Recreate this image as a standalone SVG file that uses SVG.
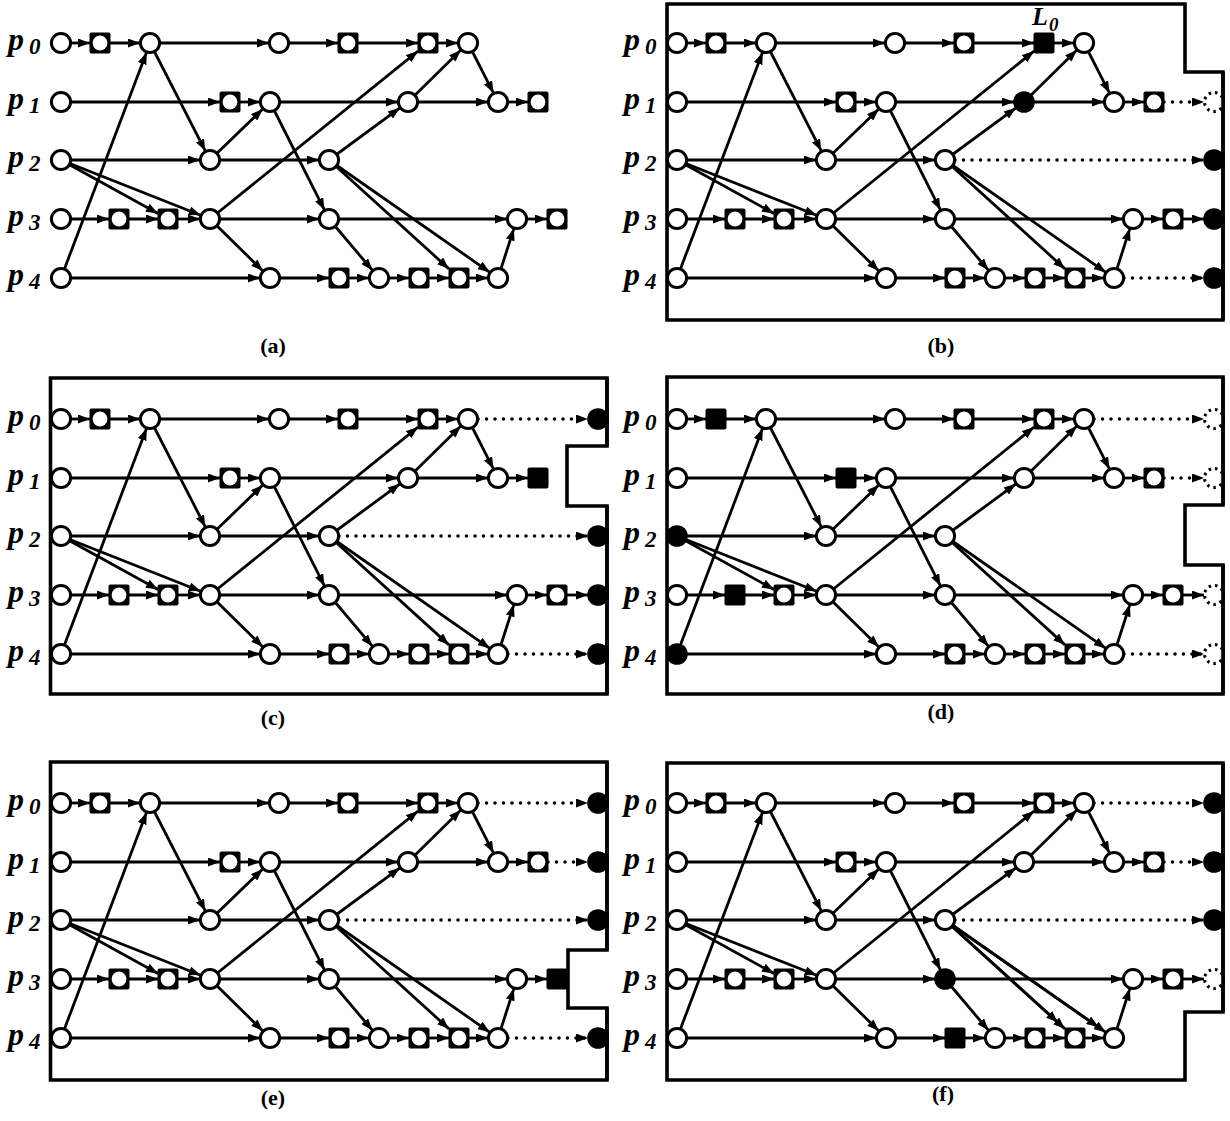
<svg xmlns="http://www.w3.org/2000/svg" xmlns:xlink="http://www.w3.org/1999/xlink" width="1230" height="1121" viewBox="0 0 1230 1121">
<style>
.e{fill:none;stroke:#000;stroke-width:2.8;marker-end:url(#ah)}
.dt{fill:none;stroke:#000;stroke-width:3.6;stroke-dasharray:0 8.5;stroke-linecap:round;marker-end:url(#ah)}
.box{fill:none;stroke:#000;stroke-width:3.6}
.pl{font-family:"Liberation Serif",serif;font-weight:bold;font-style:italic;font-size:32px}
.sb{font-size:23px}
.cap{font-family:"Liberation Serif",serif;font-weight:bold;font-size:22px;text-anchor:middle}
</style>
<defs>
<marker id="ah" viewBox="0 0 12 9" refX="12" refY="4.5" markerWidth="12" markerHeight="9" markerUnits="userSpaceOnUse" orient="auto"><path d="M0 0L12 4.5L0 9z" fill="#000"/></marker>
<g id="C"><circle r="9.6" fill="#fff" stroke="#000" stroke-width="3"/></g>
<g id="S"><rect x="-10.5" y="-10.5" width="21" height="21" rx="2" fill="#000"/><circle r="7.4" fill="#fff"/></g>
<g id="CF"><circle r="10.8" fill="#000"/></g>
<g id="SF"><rect x="-10.5" y="-10.5" width="21" height="21" rx="2" fill="#000"/></g>
<g id="CD"><circle r="9.5" fill="#fff" stroke="#000" stroke-width="3" stroke-dasharray="2.5 4"/></g>
<g id="plabels">
<text class="pl" x="8" y="50">p<tspan class="sb" dx="5" dy="4">0</tspan></text>
<text class="pl" x="8" y="109">p<tspan class="sb" dx="5" dy="4">1</tspan></text>
<text class="pl" x="8" y="167">p<tspan class="sb" dx="5" dy="4">2</tspan></text>
<text class="pl" x="8" y="226">p<tspan class="sb" dx="5" dy="4">3</tspan></text>
<text class="pl" x="8" y="285">p<tspan class="sb" dx="5" dy="4">4</tspan></text>
</g>
<g id="base-edges">
<path class="e" d="M61 43H90"/>
<path class="e" d="M100 43H140"/>
<path class="e" d="M150 43H269"/>
<path class="e" d="M279 43H338"/>
<path class="e" d="M348 43H418"/>
<path class="e" d="M428 43H458"/>
<path class="e" d="M61 102H220"/>
<path class="e" d="M230 102H260"/>
<path class="e" d="M270 102H398"/>
<path class="e" d="M408 102H488"/>
<path class="e" d="M498 102H528"/>
<path class="e" d="M61 160H200"/>
<path class="e" d="M210 160H319"/>
<path class="e" d="M61 219H109"/>
<path class="e" d="M119 219H158"/>
<path class="e" d="M168 219H200"/>
<path class="e" d="M210 219H319"/>
<path class="e" d="M329 219H507"/>
<path class="e" d="M517 219H547"/>
<path class="e" d="M61 278H260"/>
<path class="e" d="M270 278H329"/>
<path class="e" d="M339 278H369"/>
<path class="e" d="M379 278H409"/>
<path class="e" d="M419 278H449"/>
<path class="e" d="M459 278H488"/>
<path class="e" d="M61 278L146.5 52.4"/>
<path class="e" d="M150 43L205.4 151.1"/>
<path class="e" d="M210 160L262.8 109"/>
<path class="e" d="M61 160L158 213.5"/>
<path class="e" d="M61 160L200.7 215.3"/>
<path class="e" d="M210 219L262.9 271"/>
<path class="e" d="M210 219L418 51.1"/>
<path class="e" d="M270 102L324.5 210.1"/>
<path class="e" d="M329 160L399.9 107.9"/>
<path class="e" d="M408 102L460.9 50"/>
<path class="e" d="M468 43L493.5 93.1"/>
<path class="e" d="M329 219L372.5 270.4"/>
<path class="e" d="M329 160L449 268.9"/>
<path class="e" d="M329 160L489.8 272.3"/>
<path class="e" d="M498 278L513.9 228.5"/>
</g>
</defs>
<rect width="1230" height="1121" fill="#fff"/>

<!-- (a) -->
<g id="panel-a">
<g id="a-connectors"><use href="#base-edges"/></g>
<g id="a-nodes">
<use id="a-p0-0" href="#C" x="61" y="43"/><use id="a-p0-1" href="#S" x="100" y="43"/><use id="a-p0-2" href="#C" x="150" y="43"/><use id="a-p0-3" href="#C" x="279" y="43"/><use id="a-p0-4" href="#S" x="348" y="43"/><use id="a-p0-5" href="#S" x="428" y="43"/><use id="a-p0-6" href="#C" x="468" y="43"/>
<use id="a-p1-0" href="#C" x="61" y="102"/><use id="a-p1-1" href="#S" x="230" y="102"/><use id="a-p1-2" href="#C" x="270" y="102"/><use id="a-p1-3" href="#C" x="408" y="102"/><use id="a-p1-4" href="#C" x="498" y="102"/><use id="a-p1-5" href="#S" x="538" y="102"/>
<use id="a-p2-0" href="#C" x="61" y="160"/><use id="a-p2-1" href="#C" x="210" y="160"/><use id="a-p2-2" href="#C" x="329" y="160"/>
<use id="a-p3-0" href="#C" x="61" y="219"/><use id="a-p3-1" href="#S" x="119" y="219"/><use id="a-p3-2" href="#S" x="168" y="219"/><use id="a-p3-3" href="#C" x="210" y="219"/><use id="a-p3-4" href="#C" x="329" y="219"/><use id="a-p3-5" href="#C" x="517" y="219"/><use id="a-p3-6" href="#S" x="557" y="219"/>
<use id="a-p4-0" href="#C" x="61" y="278"/><use id="a-p4-1" href="#C" x="270" y="278"/><use id="a-p4-2" href="#S" x="339" y="278"/><use id="a-p4-3" href="#C" x="379" y="278"/><use id="a-p4-4" href="#S" x="419" y="278"/><use id="a-p4-5" href="#S" x="459" y="278"/><use id="a-p4-6" href="#C" x="498" y="278"/>
</g>
<use href="#plabels"/>
<text class="cap" x="273" y="353">(a)</text>
</g>

<!-- (b) -->
<g id="panel-b" transform="translate(616,0)">
<path class="box" d="M51 4H569V72H607V320H51Z"/>
<g id="b-connectors"><use href="#base-edges"/>
<path class="dt" d="M548 102H588"/><path class="dt" d="M339 160H588"/><path class="e" d="M567 219H588"/><path class="dt" d="M508 278H588"/>
</g>
<g id="b-nodes">
<use id="b-p0-0" href="#C" x="61" y="43"/><use id="b-p0-1" href="#S" x="100" y="43"/><use id="b-p0-2" href="#C" x="150" y="43"/><use id="b-p0-3" href="#C" x="279" y="43"/><use id="b-p0-4" href="#S" x="348" y="43"/><use id="b-p0-5" href="#SF" x="428" y="43"/><use id="b-p0-6" href="#C" x="468" y="43"/>
<use id="b-p1-0" href="#C" x="61" y="102"/><use id="b-p1-1" href="#S" x="230" y="102"/><use id="b-p1-2" href="#C" x="270" y="102"/><use id="b-p1-3" href="#CF" x="408" y="102"/><use id="b-p1-4" href="#C" x="498" y="102"/><use id="b-p1-5" href="#S" x="538" y="102"/><use id="b-p1-x" href="#CD" x="598" y="102"/>
<use id="b-p2-0" href="#C" x="61" y="160"/><use id="b-p2-1" href="#C" x="210" y="160"/><use id="b-p2-2" href="#C" x="329" y="160"/><use id="b-p2-x" href="#CF" x="598" y="160"/>
<use id="b-p3-0" href="#C" x="61" y="219"/><use id="b-p3-1" href="#S" x="119" y="219"/><use id="b-p3-2" href="#S" x="168" y="219"/><use id="b-p3-3" href="#C" x="210" y="219"/><use id="b-p3-4" href="#C" x="329" y="219"/><use id="b-p3-5" href="#C" x="517" y="219"/><use id="b-p3-6" href="#S" x="557" y="219"/><use id="b-p3-x" href="#CF" x="598" y="219"/>
<use id="b-p4-0" href="#C" x="61" y="278"/><use id="b-p4-1" href="#C" x="270" y="278"/><use id="b-p4-2" href="#S" x="339" y="278"/><use id="b-p4-3" href="#C" x="379" y="278"/><use id="b-p4-4" href="#S" x="419" y="278"/><use id="b-p4-5" href="#S" x="459" y="278"/><use id="b-p4-6" href="#C" x="498" y="278"/><use id="b-p4-x" href="#CF" x="598" y="278"/>
</g>
<path class="box" d="M607 72V320"/>
<use href="#plabels"/>
<text class="pl" x="416" y="25" style="font-size:26px">L<tspan dx="1" dy="6" style="font-size:19px">0</tspan></text>
<text class="cap" x="325" y="353">(b)</text>
</g>

<!-- (c) -->
<g id="panel-c" transform="translate(0,376)">
<path class="box" d="M50.5 2H607V70H567V130H607V318H50.5Z"/>
<g id="c-connectors"><use href="#base-edges"/>
<path class="dt" d="M478 43H588"/><path class="dt" d="M339 160H588"/><path class="e" d="M567 219H588"/><path class="dt" d="M508 278H588"/>
</g>
<g id="c-nodes">
<use id="c-p0-0" href="#C" x="61" y="43"/><use id="c-p0-1" href="#S" x="100" y="43"/><use id="c-p0-2" href="#C" x="150" y="43"/><use id="c-p0-3" href="#C" x="279" y="43"/><use id="c-p0-4" href="#S" x="348" y="43"/><use id="c-p0-5" href="#S" x="428" y="43"/><use id="c-p0-6" href="#C" x="468" y="43"/><use id="c-p0-x" href="#CF" x="598" y="43"/>
<use id="c-p1-0" href="#C" x="61" y="102"/><use id="c-p1-1" href="#S" x="230" y="102"/><use id="c-p1-2" href="#C" x="270" y="102"/><use id="c-p1-3" href="#C" x="408" y="102"/><use id="c-p1-4" href="#C" x="498" y="102"/><use id="c-p1-5" href="#SF" x="538" y="102"/>
<use id="c-p2-0" href="#C" x="61" y="160"/><use id="c-p2-1" href="#C" x="210" y="160"/><use id="c-p2-2" href="#C" x="329" y="160"/><use id="c-p2-x" href="#CF" x="598" y="160"/>
<use id="c-p3-0" href="#C" x="61" y="219"/><use id="c-p3-1" href="#S" x="119" y="219"/><use id="c-p3-2" href="#S" x="168" y="219"/><use id="c-p3-3" href="#C" x="210" y="219"/><use id="c-p3-4" href="#C" x="329" y="219"/><use id="c-p3-5" href="#C" x="517" y="219"/><use id="c-p3-6" href="#S" x="557" y="219"/><use id="c-p3-x" href="#CF" x="598" y="219"/>
<use id="c-p4-0" href="#C" x="61" y="278"/><use id="c-p4-1" href="#C" x="270" y="278"/><use id="c-p4-2" href="#S" x="339" y="278"/><use id="c-p4-3" href="#C" x="379" y="278"/><use id="c-p4-4" href="#S" x="419" y="278"/><use id="c-p4-5" href="#S" x="459" y="278"/><use id="c-p4-6" href="#C" x="498" y="278"/><use id="c-p4-x" href="#CF" x="598" y="278"/>
</g>
<path class="box" d="M607 2V70M607 130V318"/>
<use href="#plabels"/>
<text class="cap" x="273" y="349">(c)</text>
</g>

<!-- (d) -->
<g id="panel-d" transform="translate(616,376)">
<path class="box" d="M51 1H607V129H569V189H607V318H51Z"/>
<g id="d-connectors"><use href="#base-edges"/>
<path class="dt" d="M478 43H588"/><path class="dt" d="M548 102H588"/><path class="e" d="M567 219H588"/><path class="dt" d="M508 278H588"/>
</g>
<g id="d-nodes">
<use id="d-p0-0" href="#C" x="61" y="43"/><use id="d-p0-1" href="#SF" x="100" y="43"/><use id="d-p0-2" href="#C" x="150" y="43"/><use id="d-p0-3" href="#C" x="279" y="43"/><use id="d-p0-4" href="#S" x="348" y="43"/><use id="d-p0-5" href="#S" x="428" y="43"/><use id="d-p0-6" href="#C" x="468" y="43"/><use id="d-p0-x" href="#CD" x="598" y="43"/>
<use id="d-p1-0" href="#C" x="61" y="102"/><use id="d-p1-1" href="#SF" x="230" y="102"/><use id="d-p1-2" href="#C" x="270" y="102"/><use id="d-p1-3" href="#C" x="408" y="102"/><use id="d-p1-4" href="#C" x="498" y="102"/><use id="d-p1-5" href="#S" x="538" y="102"/><use id="d-p1-x" href="#CD" x="598" y="102"/>
<use id="d-p2-0" href="#CF" x="61" y="160"/><use id="d-p2-1" href="#C" x="210" y="160"/><use id="d-p2-2" href="#C" x="329" y="160"/>
<use id="d-p3-0" href="#C" x="61" y="219"/><use id="d-p3-1" href="#SF" x="119" y="219"/><use id="d-p3-2" href="#S" x="168" y="219"/><use id="d-p3-3" href="#C" x="210" y="219"/><use id="d-p3-4" href="#C" x="329" y="219"/><use id="d-p3-5" href="#C" x="517" y="219"/><use id="d-p3-6" href="#S" x="557" y="219"/><use id="d-p3-x" href="#CD" x="598" y="219"/>
<use id="d-p4-0" href="#CF" x="61" y="278"/><use id="d-p4-1" href="#C" x="270" y="278"/><use id="d-p4-2" href="#S" x="339" y="278"/><use id="d-p4-3" href="#C" x="379" y="278"/><use id="d-p4-4" href="#S" x="419" y="278"/><use id="d-p4-5" href="#S" x="459" y="278"/><use id="d-p4-6" href="#C" x="498" y="278"/><use id="d-p4-x" href="#CD" x="598" y="278"/>
</g>
<path class="box" d="M607 1V129M607 189V318"/>
<use href="#plabels"/>
<text class="cap" x="325" y="343">(d)</text>
</g>

<!-- (e) -->
<g id="panel-e" transform="translate(0,760)">
<path class="box" d="M50.5 2H607V190H568V248H607V320H50.5Z"/>
<g id="e-connectors"><use href="#base-edges"/>
<path class="dt" d="M478 43H588"/><path class="dt" d="M548 102H588"/><path class="dt" d="M339 160H588"/><path class="dt" d="M508 278H588"/>
</g>
<g id="e-nodes">
<use id="e-p0-0" href="#C" x="61" y="43"/><use id="e-p0-1" href="#S" x="100" y="43"/><use id="e-p0-2" href="#C" x="150" y="43"/><use id="e-p0-3" href="#C" x="279" y="43"/><use id="e-p0-4" href="#S" x="348" y="43"/><use id="e-p0-5" href="#S" x="428" y="43"/><use id="e-p0-6" href="#C" x="468" y="43"/><use id="e-p0-x" href="#CF" x="598" y="43"/>
<use id="e-p1-0" href="#C" x="61" y="102"/><use id="e-p1-1" href="#S" x="230" y="102"/><use id="e-p1-2" href="#C" x="270" y="102"/><use id="e-p1-3" href="#C" x="408" y="102"/><use id="e-p1-4" href="#C" x="498" y="102"/><use id="e-p1-5" href="#S" x="538" y="102"/><use id="e-p1-x" href="#CF" x="598" y="102"/>
<use id="e-p2-0" href="#C" x="61" y="160"/><use id="e-p2-1" href="#C" x="210" y="160"/><use id="e-p2-2" href="#C" x="329" y="160"/><use id="e-p2-x" href="#CF" x="598" y="160"/>
<use id="e-p3-0" href="#C" x="61" y="219"/><use id="e-p3-1" href="#S" x="119" y="219"/><use id="e-p3-2" href="#S" x="168" y="219"/><use id="e-p3-3" href="#C" x="210" y="219"/><use id="e-p3-4" href="#C" x="329" y="219"/><use id="e-p3-5" href="#C" x="517" y="219"/><use id="e-p3-6" href="#SF" x="557" y="219"/>
<use id="e-p4-0" href="#C" x="61" y="278"/><use id="e-p4-1" href="#C" x="270" y="278"/><use id="e-p4-2" href="#S" x="339" y="278"/><use id="e-p4-3" href="#C" x="379" y="278"/><use id="e-p4-4" href="#S" x="419" y="278"/><use id="e-p4-5" href="#S" x="459" y="278"/><use id="e-p4-6" href="#C" x="498" y="278"/><use id="e-p4-x" href="#CF" x="598" y="278"/>
</g>
<path class="box" d="M607 2V190M607 248V320"/>
<use href="#plabels"/>
<text class="cap" x="273" y="345">(e)</text>
</g>

<!-- (f) -->
<g id="panel-f" transform="translate(616,760)">
<path class="box" d="M51 3H607V252H569V320H51Z"/>
<g id="f-connectors"><use href="#base-edges"/>
<path class="e" d="M329 160L442 262.5"/><path class="e" d="M329 160L482.4 267.1"/>
<path class="dt" d="M478 43H588"/><path class="dt" d="M548 102H588"/><path class="dt" d="M339 160H588"/><path class="e" d="M567 219H588"/>
</g>
<g id="f-nodes">
<use id="f-p0-0" href="#C" x="61" y="43"/><use id="f-p0-1" href="#S" x="100" y="43"/><use id="f-p0-2" href="#C" x="150" y="43"/><use id="f-p0-3" href="#C" x="279" y="43"/><use id="f-p0-4" href="#S" x="348" y="43"/><use id="f-p0-5" href="#S" x="428" y="43"/><use id="f-p0-6" href="#C" x="468" y="43"/><use id="f-p0-x" href="#CF" x="598" y="43"/>
<use id="f-p1-0" href="#C" x="61" y="102"/><use id="f-p1-1" href="#S" x="230" y="102"/><use id="f-p1-2" href="#C" x="270" y="102"/><use id="f-p1-3" href="#C" x="408" y="102"/><use id="f-p1-4" href="#C" x="498" y="102"/><use id="f-p1-5" href="#S" x="538" y="102"/><use id="f-p1-x" href="#CF" x="598" y="102"/>
<use id="f-p2-0" href="#C" x="61" y="160"/><use id="f-p2-1" href="#C" x="210" y="160"/><use id="f-p2-2" href="#C" x="329" y="160"/><use id="f-p2-x" href="#CF" x="598" y="160"/>
<use id="f-p3-0" href="#C" x="61" y="219"/><use id="f-p3-1" href="#S" x="119" y="219"/><use id="f-p3-2" href="#S" x="168" y="219"/><use id="f-p3-3" href="#C" x="210" y="219"/><use id="f-p3-4" href="#CF" x="329" y="219"/><use id="f-p3-5" href="#C" x="517" y="219"/><use id="f-p3-6" href="#S" x="557" y="219"/><use id="f-p3-x" href="#CD" x="598" y="219"/>
<use id="f-p4-0" href="#C" x="61" y="278"/><use id="f-p4-1" href="#C" x="270" y="278"/><use id="f-p4-2" href="#SF" x="339" y="278"/><use id="f-p4-3" href="#C" x="379" y="278"/><use id="f-p4-4" href="#S" x="419" y="278"/><use id="f-p4-5" href="#S" x="459" y="278"/><use id="f-p4-6" href="#C" x="498" y="278"/>
</g>
<path class="box" d="M607 3V252"/>
<use href="#plabels"/>
<text class="cap" x="327" y="341">(f)</text>
</g>
</svg>
